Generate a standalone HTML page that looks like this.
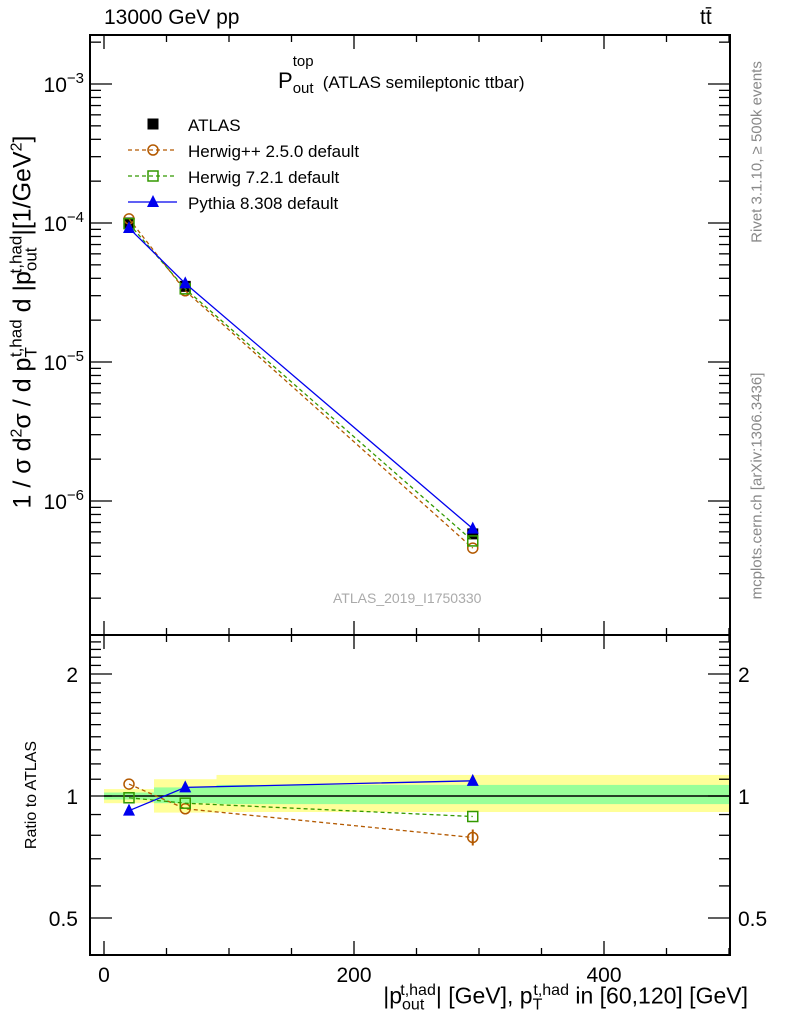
<!DOCTYPE html>
<html><head><meta charset="utf-8"><style>
body{margin:0;background:#fff;width:786px;height:1024px;overflow:hidden}
svg{font-family:"Liberation Sans",sans-serif}
</style></head><body>
<svg id="c" width="786" height="1024"></svg>
<script>
const xCenters=[20,65,295];
const binEdges=[0,40,90,500];
const atlasVals=[1.0e-4,3.5e-5,5.8e-7];
const ratioHerwigpp=[1.07,0.93,0.79];
const ratioHerwig7=[0.99,0.96,0.89];
const ratioPythia=[0.92,1.05,1.09];
const bandYellowLo=[0.96,0.91,0.913];
const bandYellowHi=[1.04,1.10,1.127];
const bandGreenLo=[0.98,0.96,0.955];
const bandGreenHi=[1.02,1.05,1.065];
const xTicks=[0,200,400];
const logTicks=[-6,-5,-4,-3];
const ratioTicks=[0.5,1,2];

const NS="http://www.w3.org/2000/svg";
const svg=document.getElementById('c');
function el(t,a,p){const e=document.createElementNS(NS,t);for(const k in a)e.setAttribute(k,a[k]);(p||svg).appendChild(e);return e;}
const L=90,R=730,T1=35,B1=635,T2=635,B2=955;
const X=v=>104+v*1.25;
const Y1=v=>84-(Math.log10(v)+3)*139;
const Y2=v=>796-Math.log2(v)*122;

for(let i=0;i<3;i++){
  const r=el('rect',{x:X(binEdges[i]),y:Y2(bandYellowHi[i]),width:X(binEdges[i+1])-X(binEdges[i]),height:Y2(bandYellowLo[i])-Y2(bandYellowHi[i]),fill:'#ffff99'});
  
  
}
for(let i=0;i<3;i++){
  const r=el('rect',{x:X(binEdges[i]),y:Y2(bandGreenHi[i]),width:X(binEdges[i+1])-X(binEdges[i]),height:Y2(bandGreenLo[i])-Y2(bandGreenHi[i]),fill:'#99ff99'});
  
  
}
el('line',{x1:X(0),x2:X(500),y1:Y2(1),y2:Y2(1),stroke:'#000','stroke-width':1.5});

el('rect',{x:L,y:T1,width:R-L,height:B1-T1,fill:'none',stroke:'#000','stroke-width':2});
el('rect',{x:L,y:T2,width:R-L,height:B2-T2,fill:'none',stroke:'#000','stroke-width':2});

for(let v=0;v<=500;v+=50){
  const big=v%200===0;const len=big?14:7;
  [T1,T2].forEach(t=>el('line',{x1:X(v),x2:X(v),y1:t,y2:t+len,stroke:'#000','stroke-width':1.3}));
  [B1,B2].forEach(b=>el('line',{x1:X(v),x2:X(v),y1:b,y2:b-len,stroke:'#000','stroke-width':1.3}));
}
xTicks.forEach(v=>{const t=el('text',{x:X(v),y:982,'font-size':21,'text-anchor':'middle'});t.textContent=v;
});

for(let d=-7;d<=-3;d++)for(let m=1;m<10;m++){
  const y=Y1(m*Math.pow(10,d));if(y<T1||y>B1)continue;const len=m===1?22:11;
  el('line',{x1:L,x2:L+len,y1:y,y2:y,stroke:'#000','stroke-width':1.3});
  el('line',{x1:R,x2:R-len,y1:y,y2:y,stroke:'#000','stroke-width':1.3});
}
logTicks.forEach(d=>{const t=el('text',{x:84,y:Y1(Math.pow(10,d))+8,'font-size':21,'text-anchor':'end'});
t.innerHTML='10<tspan dy="-9" font-size="15">\u2212'+(-d)+'</tspan>';
});

const rt=[0.5,0.6,0.7,0.8,0.9,1,1.1,1.2,1.3,1.4,1.5,1.6,1.7,1.8,1.9,2,2.1,2.2,2.3,2.4];
rt.forEach(v=>{const y=Y2(v);if(y<T2||y>B2)return;const big=ratioTicks.includes(v);const len=big?22:11;
  el('line',{x1:L,x2:L+len,y1:y,y2:y,stroke:'#000','stroke-width':1.3});
  el('line',{x1:R,x2:R-len,y1:y,y2:y,stroke:'#000','stroke-width':1.3});});
ratioTicks.forEach(v=>{const y=Y2(v)+8;
  const a=el('text',{x:78,y:y,'font-size':21,'text-anchor':'end'});a.textContent=v;
  
  const b=el('text',{x:738,y:y,'font-size':21});b.textContent=v;
  });

function series(vals,color,dash,marker,name,ratio){
  const Y=ratio?Y2:Y1;
  const pts=xCenters.map((x,i)=>[X(x),Y(vals[i])]);
  const pl=el('polyline',{points:pts.map(p=>p.join(',')).join(' '),fill:'none',stroke:color,'stroke-width':1.3,'stroke-dasharray':dash||''});
  
  pts.forEach(p=>drawMarker(marker,p[0],p[1],color,name));
}
function drawMarker(m,x,y,c,name){
  let e;
  if(m==='circle')e=el('circle',{cx:x,cy:y,r:5,fill:'none',stroke:c,'stroke-width':1.5});
  else if(m==='osq')e=el('rect',{x:x-5,y:y-5,width:10,height:10,fill:'none',stroke:c,'stroke-width':1.5});
  else if(m==='sq')e=el('rect',{x:x-5.5,y:y-5.5,width:11,height:11,fill:c});
  else e=el('polygon',{points:`${x},${y-7} ${x-6},${y+5} ${x+6},${y+5}`,fill:c});
  
}
const hpp=atlasVals.map((v,i)=>v*ratioHerwigpp[i]);
const h7=atlasVals.map((v,i)=>v*ratioHerwig7[i]);
const py=atlasVals.map((v,i)=>v*ratioPythia[i]);
xCenters.forEach((x,i)=>drawMarker('sq',X(x),Y1(atlasVals[i]),'#000','atlas'));
series(hpp,'#b35900','4,3','circle','herwigpp',false);
series(h7,'#339900','4,3','osq','herwig7',false);
series(py,'#0000ee','','tri','pythia',false);
series(ratioHerwigpp,'#b35900','4,3','circle','herwigpp-ratio',true);
series(ratioHerwig7,'#339900','4,3','osq','herwig7-ratio',true);
series(ratioPythia,'#0000ee','','tri','pythia-ratio',true);
{const x=X(xCenters[2]),y=Y2(ratioHerwigpp[2]);
 const eb=el('line',{x1:x,x2:x,y1:y-8,y2:y+8,stroke:'#b35900','stroke-width':2});
 }

const leg=[['ATLAS','#000','','sq'],['Herwig++ 2.5.0 default','#b35900','4,3','circle'],['Herwig 7.2.1 default','#339900','4,3','osq'],['Pythia 8.308 default','#0000ee','','tri']];
leg.forEach((l,i)=>{const y=124+i*26;const g=el('g',{});
  
  if(i>0)el('line',{x1:128,x2:177,y1:y,y2:y,stroke:l[1],'stroke-width':1.3,'stroke-dasharray':l[2]},g);
  drawMarker(l[3],153,y,l[1],'legend');
  const t=el('text',{x:188,y:y+7,'font-size':17},g);t.textContent=l[0];});
</script>
<div style="position:absolute;left:0;top:0;width:786px;height:1024px;pointer-events:none;font-family:'Liberation Sans',sans-serif">
<div style="position:absolute;left:104px;top:6px;font-size:21px">13000 GeV pp</div>
<div style="position:absolute;left:700px;top:6px;font-size:21px">tt̄</div>
<div style="position:absolute;left:278px;top:68px;font-size:22px;white-space:nowrap">P<span style="position:relative;"><span style="font-size:15px;position:absolute;left:0;top:-15px">top</span><span style="font-size:15px;position:absolute;left:0;top:12px">out</span></span><span style="margin-left:30px;font-size:17px">(ATLAS semileptonic ttbar)</span></div>
<div style="position:absolute;left:333px;top:590px;font-size:14px;color:#aaa">ATLAS_2019_I1750330</div>
<div style="position:absolute;left:24px;top:322px;transform:translate(-50%,-50%) rotate(-90deg);font-size:25px;white-space:nowrap">1 / σ d<sup style="font-size:16px">2</sup>σ / d p<sub style="font-size:17px">T</sub><sup style="font-size:17px;margin-left:-10px">t,had</sup> d |p<sub style="font-size:17px">out</sub><sup style="font-size:17px;margin-left:-26px">t,had</sup>|[1/GeV<sup style="font-size:16px">2</sup>]</div>
<div style="position:absolute;left:32px;top:795px;transform:translate(-50%,-50%) rotate(-90deg);font-size:16px;white-space:nowrap">Ratio to ATLAS</div>
<div style="position:absolute;right:38px;top:982px;font-size:23px;white-space:nowrap">|p<sub style="font-size:16px">out</sub><sup style="font-size:16px;margin-left:-24px">t,had</sup>| [GeV], p<sub style="font-size:16px">T</sub><sup style="font-size:16px;margin-left:-9px">t,had</sup> in [60,120] [GeV]</div>
<div style="position:absolute;left:757px;top:152px;transform:translate(-50%,-50%) rotate(-90deg);font-size:15px;color:#888;white-space:nowrap">Rivet 3.1.10, ≥ 500k events</div>
<div style="position:absolute;left:757px;top:486px;transform:translate(-50%,-50%) rotate(-90deg);font-size:15px;color:#888;white-space:nowrap">mcplots.cern.ch [arXiv:1306.3436]</div>
</div>
</body></html>
